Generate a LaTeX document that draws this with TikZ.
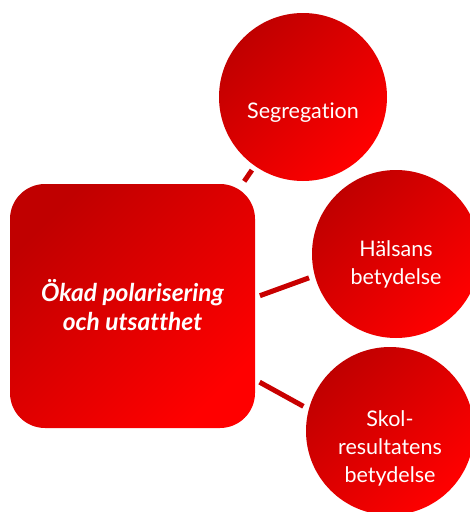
\documentclass[tikz,border=0pt]{standalone}
\usepackage{fontspec}
\setmainfont{Lato}[Ligatures={NoCommon}]
\definecolor{dred}{HTML}{C00000}
\definecolor{bred}{HTML}{FF0000}
\definecolor{lred}{HTML}{C80000}
\begin{document}
\begin{tikzpicture}[x=1pt,y=-1pt,
  shapefill/.style={draw=none, top color=dred, bottom color=bred, shading angle=45},
  sqbox/.style={shapefill, rounded corners=35pt, minimum width=245pt, minimum height=244pt, inner sep=0pt},
  bubble/.style={shapefill, circle, minimum size=168pt, inner sep=0pt},
  conn/.style={draw=lred, line width=5pt},
  lbl/.style={text=white, align=center, font=\fontsize{21.5}{28}\selectfont},
  sqlbl/.style={text=white, align=center, font=\fontsize{24.5}{29}\selectfont\bfseries\itshape}]
\useasboundingbox (0,0) rectangle (470,512);
\clip (0,0) rectangle (470,512);
\node[sqbox] (sq) at (132.5,306) {};
\node[bubble] (c1) at (303,97) {};
\node[bubble] (c2) at (396,254) {};
\node[bubble] (c3) at (390,431) {};
\draw[conn, shorten <=3pt, shorten >=5pt] (sq.48) -- (c1.235);
\draw[conn, shorten <=5pt, shorten >=6pt] (sq.4) -- (c2.195);
\draw[conn, shorten <=5pt, shorten >=6pt] (sq.-31) -- (c3.165);
\node[sqlbl] (t0) at (132.5,305) {Ökad polarisering\\och utsatthet};
\node[lbl] (t1) at (303,113) {Segregation};
\node[lbl] (t2) at (396,264) {Hälsans\\betydelse};
\node[lbl] (t3) at (390,448) {Skol-\\resultatens\\betydelse};
\end{tikzpicture}
\end{document}
